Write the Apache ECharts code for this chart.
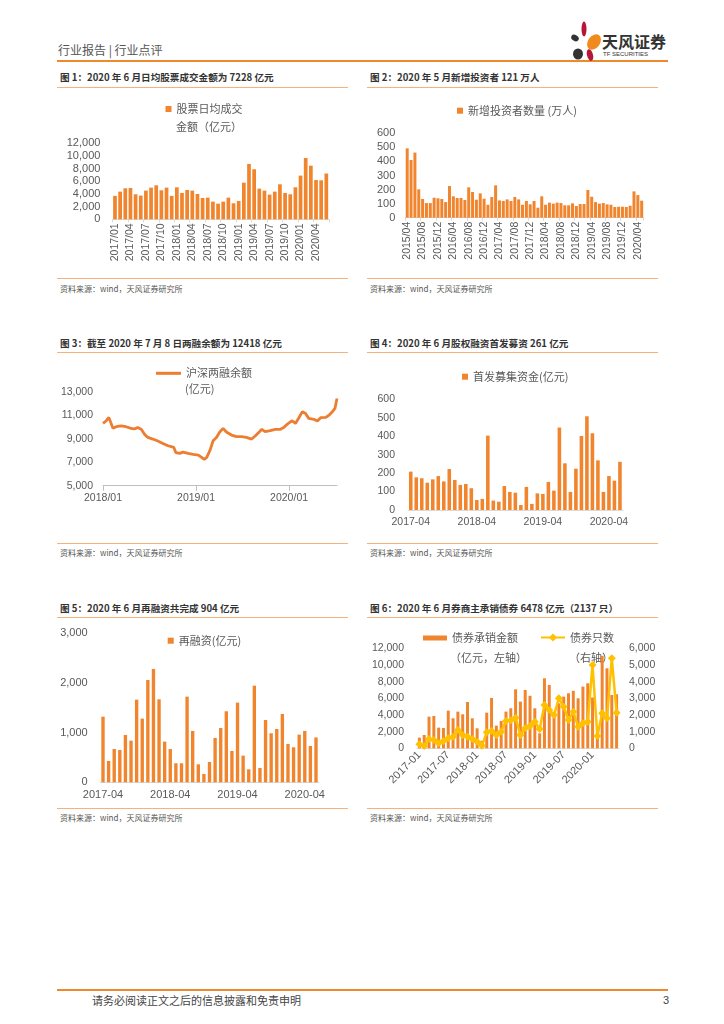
<!DOCTYPE html>
<html><head><meta charset="utf-8">
<script src="https://cdn.jsdelivr.net/npm/echarts@6/dist/echarts.min.js"></script>
<style>
body{margin:0;width:724px;height:1024px;background:#fff;position:relative;overflow:hidden;font-family:"Noto Sans CJK SC","Liberation Sans",sans-serif}
.abs{position:absolute;white-space:nowrap}
.title{position:absolute;white-space:nowrap;font-size:9.6px;font-weight:bold;color:#333;line-height:12px}
.src{position:absolute;white-space:nowrap;font-size:8px;color:#555;line-height:10px}
.ln{position:absolute;height:1px;background:#F6B27A}
.chart{position:absolute}
</style></head>
<body>
<div class="abs" style="left:58px;top:42px;font-size:12px;color:#555;line-height:16px">行业报告 | 行业点评</div>
<div class="abs" style="left:57px;top:60px;width:611px;height:2px;background:#EE8A2D"></div>
<svg class="abs" style="left:565px;top:18px" width="40" height="48" viewBox="565 18 40 48">
  <ellipse cx="575" cy="38" rx="4" ry="3" fill="#333" transform="rotate(30 575 38)"/>
  <ellipse cx="584" cy="29" rx="2.5" ry="7.5" fill="#B4173A"/>
  <ellipse cx="594" cy="42" rx="6" ry="8.5" fill="#F08A1C" transform="rotate(35 594 42)"/>
  <ellipse cx="578" cy="54" rx="5" ry="5.5" fill="#333"/>
  <ellipse cx="590" cy="55" rx="3" ry="6" fill="#B4173A" transform="rotate(-15 590 55)"/>
</svg>
<div class="abs" style="left:602px;top:32px;font-size:16px;font-weight:bold;color:#333;line-height:18px">天风证券</div>
<div class="abs" style="left:603px;top:51px;font-size:6px;color:#333;line-height:7px;font-family:'Liberation Sans'">TF SECURITIES</div>

<div class="title" style="left:60px;top:71px">图 1：2020 年 6 月日均股票成交金额为 7228 亿元</div>
<div class="title" style="left:370px;top:71px">图 2：2020 年 5 月新增投资者 121 万人</div>
<div class="ln" style="left:57px;top:87px;width:291px"></div>
<div class="ln" style="left:367px;top:87px;width:291px"></div>
<div class="ln" style="left:57px;top:278px;width:291px"></div>
<div class="ln" style="left:367px;top:278px;width:291px"></div>
<div class="src" style="left:60px;top:284px">资料来源：wind，天风证券研究所</div>
<div class="src" style="left:370px;top:284px">资料来源：wind，天风证券研究所</div>

<div class="title" style="left:60px;top:337px">图 3：截至 2020 年 7 月 8 日两融余额为 12418 亿元</div>
<div class="title" style="left:370px;top:337px">图 4：2020 年 6 月股权融资首发募资 261 亿元</div>
<div class="ln" style="left:57px;top:352px;width:291px"></div>
<div class="ln" style="left:367px;top:352px;width:291px"></div>
<div class="ln" style="left:57px;top:543px;width:291px"></div>
<div class="ln" style="left:367px;top:543px;width:291px"></div>
<div class="src" style="left:60px;top:548px">资料来源：wind，天风证券研究所</div>
<div class="src" style="left:370px;top:548px">资料来源：wind，天风证券研究所</div>

<div class="title" style="left:60px;top:602px">图 5：2020 年 6 月再融资共完成 904 亿元</div>
<div class="title" style="left:370px;top:602px">图 6：2020 年 6 月券商主承销债券 6478 亿元（2137 只）</div>
<div class="ln" style="left:57px;top:617px;width:291px"></div>
<div class="ln" style="left:367px;top:617px;width:291px"></div>
<div class="ln" style="left:57px;top:808px;width:291px"></div>
<div class="ln" style="left:367px;top:808px;width:291px"></div>
<div class="src" style="left:60px;top:813px">资料来源：wind，天风证券研究所</div>
<div class="src" style="left:370px;top:813px">资料来源：wind，天风证券研究所</div>

<div class="abs" style="left:57px;top:989px;width:611px;height:2px;background:#EE8A2D"></div>
<div class="abs" style="left:92px;top:993px;font-size:11px;color:#444;line-height:14px">请务必阅读正文之后的信息披露和免责申明</div>
<div class="abs" style="left:663px;top:993px;font-size:11px;color:#444;line-height:14px;font-family:'Liberation Sans'">3</div>

<div id="c1" class="chart" style="left:50px;top:90px;width:300px;height:188px"></div>
<div id="c2" class="chart" style="left:360px;top:90px;width:300px;height:188px"></div>
<div id="c3" class="chart" style="left:50px;top:355px;width:300px;height:185px"></div>
<div id="c4" class="chart" style="left:360px;top:355px;width:300px;height:185px"></div>
<div id="c5" class="chart" style="left:50px;top:620px;width:300px;height:186px"></div>
<div id="c6" class="chart" style="left:360px;top:620px;width:300px;height:186px"></div>

<script>
function monthLabels(y, m, n, sep) {
  const out = [];
  for (let i = 0; i < n; i++) {
    const mm = m - 1 + i;
    const yy = y + Math.floor(mm / 12);
    const mo = (mm % 12) + 1;
    out.push(yy + sep + (mo < 10 ? '0' : '') + mo);
  }
  return out;
}

// Chart 1: 股票日均成交金额（亿元） 2017/01 - 2020/06
const c1Cats = monthLabels(2017, 1, 42, '/');
const c1Vals = [3700,4370,4900,4950,3950,3740,4530,5000,5370,4580,5000,3700,5050,4160,4630,4530,4000,3370,3420,2790,2470,2790,3420,2530,2900,5790,8740,7900,4840,4530,3900,4370,5530,4160,3950,5050,6900,9680,8470,6200,6160,7228];

// Chart 2: 新增投资者数量（万人） 2015/04 - 2020/05
const c2Cats = monthLabels(2015, 4, 62, '/');
const c2Vals = [493,410,463,202,133,104,104,142,138,133,111,225,152,140,140,126,216,183,128,173,135,92,147,230,123,119,130,119,147,130,92,119,95,119,71,152,92,107,100,107,104,88,88,102,83,97,97,197,149,111,100,104,95,92,76,78,78,76,85,187,161,121];

// Chart 3: 沪深两融余额（亿元）
const c3Dates = ['2018-01-02','2018-01-15','2018-01-25','2018-01-30','2018-02-10','2018-02-23','2018-03-13','2018-04-02','2018-04-22','2018-05-05','2018-05-18','2018-06-01','2018-06-14','2018-06-27','2018-07-16','2018-08-05','2018-08-25','2018-09-14','2018-09-27','2018-10-07','2018-10-15','2018-10-30','2018-11-12','2018-12-02','2018-12-22','2019-01-11','2019-01-24','2019-02-03','2019-02-13','2019-02-26','2019-03-10','2019-03-23','2019-04-05','2019-04-18','2019-05-01','2019-05-21','2019-06-10','2019-06-30','2019-07-19','2019-08-08','2019-08-22','2019-09-04','2019-09-17','2019-09-30','2019-10-20','2019-11-09','2019-11-29','2019-12-12','2019-12-25','2020-01-14','2020-01-27','2020-02-10','2020-02-23','2020-03-06','2020-03-19','2020-04-08','2020-04-22','2020-05-05','2020-05-25','2020-06-07','2020-06-20','2020-06-30','2020-07-08'];
const c3Vals = [10305,10530,10815,10730,9880,10020,10100,10020,9880,9830,9960,9800,9370,9110,8970,8800,8600,8400,8320,8260,7810,7750,7860,7750,7670,7610,7410,7240,7410,8030,8830,9110,9570,9880,9570,9310,9170,9170,9110,8970,9230,9510,9800,9600,9680,9800,9800,9960,10220,10530,10300,10810,11300,11160,10730,10650,10500,10790,10810,11010,11300,11580,12418];
const c3TickDates = ['2018-01-02','2019-01-02','2020-01-02'];
const c3TickLabels = ['2018/01','2019/01','2020/01'];

// Chart 4: 首发募集资金（亿元） 2017-04 - 2020-06
const c4Cats = monthLabels(2017, 4, 39, '-');
const c4Vals = [208,177,172,148,166,184,155,222,163,136,141,118,54,60,403,51,45,130,98,94,27,125,33,90,87,152,105,447,253,98,224,401,508,416,269,98,184,159,261];

// Chart 5: 再融资（亿元） 2017-04 - 2020-06
const c5Cats = monthLabels(2017, 4, 39, '-');
const c5Vals = [1322,430,671,651,953,839,1664,1282,2060,2282,1671,819,671,383,383,1725,1034,362,168,409,893,1094,1430,631,1604,537,262,1946,289,1255,987,1074,1376,772,705,960,1034,732,904];

// Chart 6: 债券承销金额（亿元）/ 债券只数 2017-01 - 2020-06
const c6Cats = monthLabels(2017, 1, 42, '-');
const c6Amount = [1280,1600,3800,3880,2480,2440,4520,3600,4400,4080,5560,3600,2400,900,4280,6040,2720,3280,4400,4800,7080,5600,7000,6300,4800,1800,8400,7600,4300,5400,6200,6600,6900,6000,7400,7800,6100,1700,11100,9600,6400,6478];
const c6Count = [240,140,560,500,300,440,600,700,1100,800,700,560,400,160,960,1040,800,1000,1640,1680,1840,800,1200,1340,1600,1160,2600,2300,2000,3000,2500,1700,2200,1300,1500,1600,5000,740,2100,1800,5400,2137];

const FONT = '"Liberation Sans", Arial, sans-serif';
const CJK = '"Noto Sans CJK SC", sans-serif';
const GRAY = '#595959';
const ORANGE = '#F0852D';

function parseD(s) { const p = s.split('-'); return Date.UTC(+p[0], +p[1] - 1, +p[2]); }

function valAxis(min, max, interval, fs, margin, extra) {
  return Object.assign({
    type: 'value', min: min, max: max, interval: interval,
    axisLine: { show: false }, axisTick: { show: false }, splitLine: { show: false },
    axisLabel: { color: GRAY, fontFamily: FONT, fontSize: fs, margin: margin }
  }, extra || {});
}
function catAxis(cats, interval, rotate, fs, margin, tick) {
  return {
    type: 'category', data: cats,
    axisLine: { lineStyle: { color: '#D9D9D9' } },
    axisTick: tick ? Object.assign({ show: true, lineStyle: { color: '#D9D9D9' } }, tick) : { show: false },
    axisLabel: { interval: interval, rotate: rotate, color: GRAY, fontFamily: FONT, fontSize: fs, margin: margin }
  };
}
function legendBase(extra) {
  return Object.assign({ padding: 0, icon: 'rect', itemWidth: 6, itemHeight: 6,
    textStyle: { fontSize: 11, color: GRAY, fontFamily: CJK } }, extra);
}
function txt(left, top, text) {
  return { type: 'text', left: left, top: top, style: { text: text, font: '11px "Noto Sans CJK SC"', fill: GRAY } };
}
function safe(fn) { try { fn(); } catch (e) { console.error(e); } }

safe(function () {
  const ch1 = echarts.init(document.getElementById('c1'));
  ch1.setOption({
    animation: false,
    grid: { left: 62.4, top: 53.3, width: 216.5, height: 76 },
    legend: legendBase({ data: ['股票日均成交'], left: 115.5, top: 13.5 }),
    graphic: [txt(126, 31, '金额（亿元）')],
    xAxis: catAxis(c1Cats, 2, 90, 10.5, 4, { interval: 2, length: 3 }),
    yAxis: valAxis(0, 12000, 2000, 11, 12),
    series: [{ type: 'bar', name: '股票日均成交', data: c1Vals, itemStyle: { color: ORANGE }, barCategoryGap: '28%' }]
  });
});

safe(function () {
  const ch2 = echarts.init(document.getElementById('c2'));
  ch2.setOption({
    animation: false,
    grid: { left: 45.3, top: 43.3, width: 238.3, height: 84.4 },
    legend: legendBase({ data: ['新增投资者数量 (万人)'], left: 97, top: 15.2 }),
    xAxis: catAxis(c2Cats, 3, 90, 10.5, 4, { interval: 3, length: 3 }),
    yAxis: valAxis(0, 600, 100, 11, 10),
    series: [{ type: 'bar', name: '新增投资者数量 (万人)', data: c2Vals, itemStyle: { color: ORANGE }, barCategoryGap: '22%' }]
  });
});

safe(function () {
  const ch3 = echarts.init(document.getElementById('c3'));
  const ticks = c3TickDates.map(parseD);
  ch3.setOption({
    animation: false,
    grid: { left: 53, top: 36.7, width: 234, height: 94 },
    legend: legendBase({ data: ['沪深两融余额'], left: 106, top: 12.8, itemWidth: 25, itemHeight: 3 }),
    graphic: [txt(135, 28, '(亿元)')],
    xAxis: {
      type: 'value', min: parseD('2018-01-02'), max: parseD('2020-07-08'),
      axisLine: { lineStyle: { color: '#BFBFBF' } },
      axisTick: { show: true, customValues: ticks, length: 5, lineStyle: { color: '#BFBFBF' } },
      splitLine: { show: false },
      axisLabel: {
        customValues: ticks, color: GRAY, fontFamily: FONT, fontSize: 10.5, margin: 7,
        formatter: function (v) { const i = ticks.indexOf(v); return i >= 0 ? c3TickLabels[i] : ''; }
      }
    },
    yAxis: valAxis(5000, 13000, 2000, 10.5, 10),
    series: [{
      type: 'line', name: '沪深两融余额', showSymbol: false,
      data: c3Dates.map(function (d, i) { return [parseD(d), c3Vals[i]]; }),
      lineStyle: { color: '#ED7D31', width: 2.8 }, itemStyle: { color: '#ED7D31' }
    }]
  });
});

safe(function () {
  const ch4 = echarts.init(document.getElementById('c4'));
  ch4.setOption({
    animation: false,
    grid: { left: 48, top: 44.3, width: 214.7, height: 110.7 },
    legend: legendBase({ data: ['首发募集资金(亿元)'], left: 102, top: 16.2 }),
    xAxis: catAxis(c4Cats, 11, 0, 10.5, 7, null),
    yAxis: valAxis(0, 600, 100, 10.5, 13),
    series: [{ type: 'bar', name: '首发募集资金(亿元)', data: c4Vals, itemStyle: { color: ORANGE }, barCategoryGap: '35%' }]
  });
});

safe(function () {
  const ch5 = echarts.init(document.getElementById('c5'));
  ch5.setOption({
    animation: false,
    grid: { left: 50.2, top: 13.3, width: 218.6, height: 149 },
    legend: legendBase({ data: ['再融资(亿元)'], left: 117.7, top: 15.2 }),
    xAxis: catAxis(c5Cats, 11, 0, 11, 7, null),
    yAxis: valAxis(0, 3000, 1000, 11, 12.5),
    series: [{ type: 'bar', name: '再融资(亿元)', data: c5Vals, itemStyle: { color: ORANGE }, barCategoryGap: '40%' }]
  });
});

safe(function () {
  const ch6 = echarts.init(document.getElementById('c6'));
  ch6.setOption({
    animation: false,
    grid: { left: 57, top: 28.3, width: 202, height: 100 },
    legend: [
      legendBase({ data: ['债券承销金额'], left: 63, top: 12.5, itemWidth: 24, itemHeight: 5 }),
      { data: ['债券只数'], left: 180, top: 12, padding: 0, itemWidth: 24, itemHeight: 10,
        textStyle: { fontSize: 11, color: GRAY, fontFamily: CJK } }
    ],
    graphic: [txt(90, 32, '（亿元，左轴）'), txt(209, 32, '（右轴）')],
    xAxis: catAxis(c6Cats, 5, 45, 11, 5, null),
    yAxis: [
      valAxis(0, 12000, 2000, 10.5, 13),
      valAxis(0, 6000, 1000, 10.5, 10, { position: 'right' })
    ],
    series: [
      { type: 'bar', name: '债券承销金额', data: c6Amount, itemStyle: { color: ORANGE }, barCategoryGap: '38%' },
      { type: 'line', name: '债券只数', yAxisIndex: 1, data: c6Count, symbol: 'diamond', symbolSize: 8,
        showAllSymbol: true,
        lineStyle: { color: '#FFC000', width: 2.5 }, itemStyle: { color: '#FFC000' } }
    ]
  });
});
</script>
</body></html>
